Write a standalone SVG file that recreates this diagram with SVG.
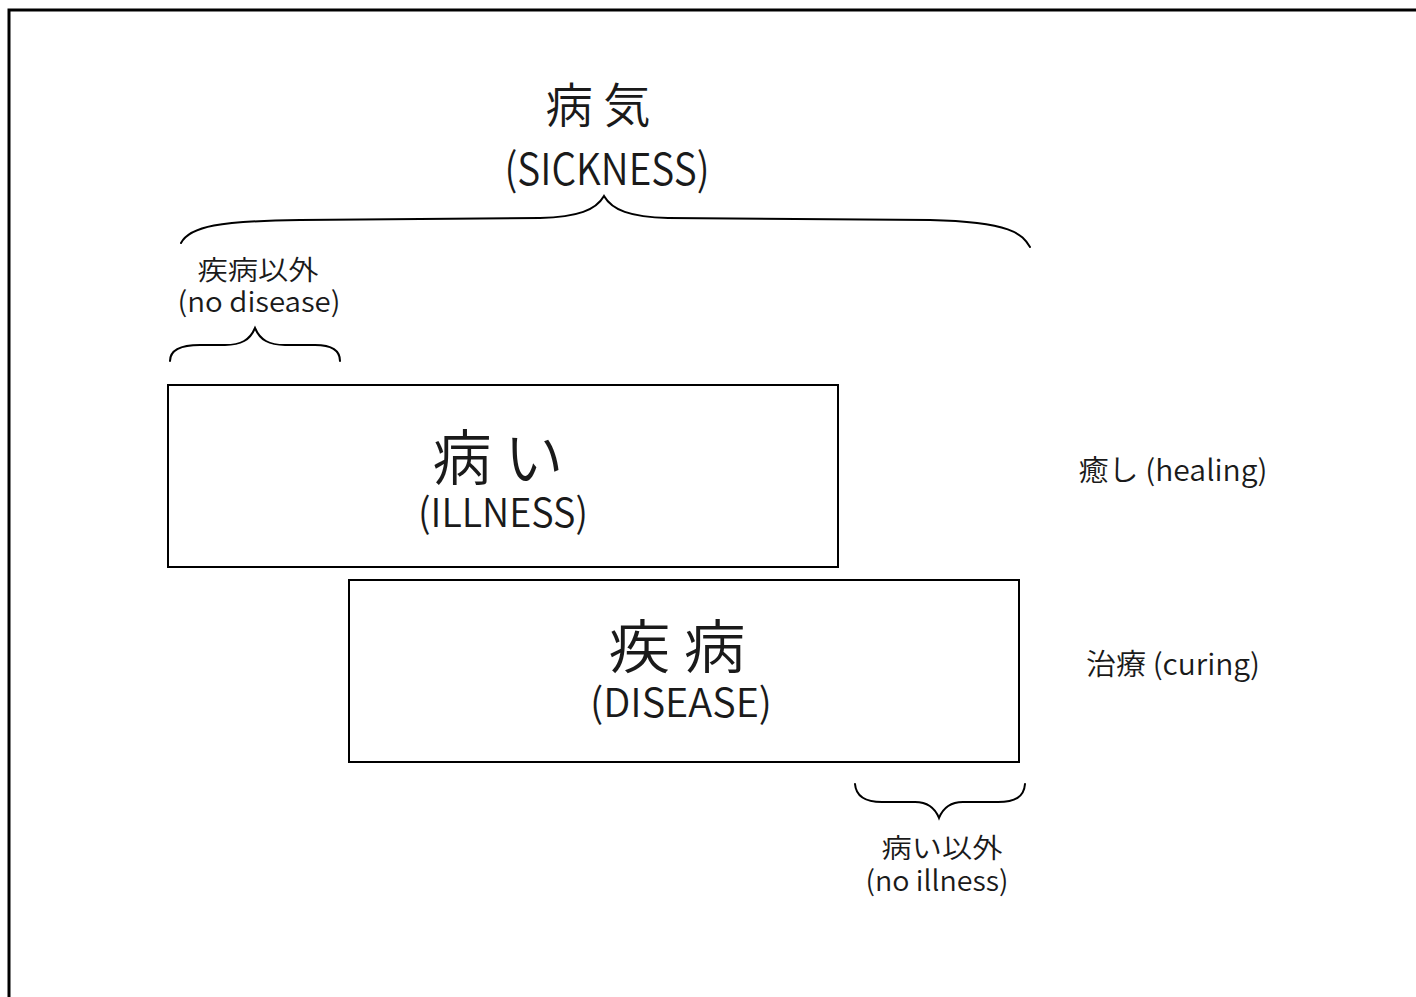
<svg xmlns="http://www.w3.org/2000/svg" width="1416" height="997" viewBox="0 0 1416 997">
<style>
text{font-family:"Noto Sans CJK JP","Noto Sans",sans-serif;fill:#1a1a1a;text-anchor:middle;font-weight:350}
.box{fill:#fff;stroke:#000;stroke-width:2}
.br{fill:none;stroke:#000;stroke-width:2;stroke-linecap:round}
</style>
<rect width="1416" height="997" fill="#fff"/>
<path d="M9,1000 L9,10 L1420,10" fill="none" stroke="#000" stroke-width="3"/>
<g id="connectors">
<path class="br" d="M181,243 C190,226 220,221 300,220 L540,218 C578,217 596,210 604,196 C612,210 630,217 668,218 L930,220 C1012,222 1022,234 1030,247"/>
<path class="br" d="M170,361 C170,350 180,345 200,345 L225,345 C241,345 250,340 255,328 C260,340 269,345 285,345 L315,345 C331,345 340,350 340,361"/>
<path class="br" d="M855,784 C856,797 866,802 882,802 L915,802 C927,802 935,808 939,818 C943,808 951,802 963,802 L998,802 C1015,802 1024,797 1025,784"/>
</g>
<g id="sickness">
<text x="598" y="123" font-size="48" textLength="105" lengthAdjust="spacingAndGlyphs">病 気</text>
<text x="607" y="185" font-size="44" textLength="205" lengthAdjust="spacingAndGlyphs">(SICKNESS)</text>
</g>
<g id="no-disease">
<text x="258" y="280" font-size="27" textLength="121" lengthAdjust="spacingAndGlyphs">疾病以外</text>
<text x="259" y="312" font-size="28" textLength="163" lengthAdjust="spacingAndGlyphs">(no disease)</text>
</g>
<g id="illness">
<rect class="box" x="168" y="385" width="670" height="182"/>
<text x="498" y="480" font-size="60" textLength="131" lengthAdjust="spacingAndGlyphs">病 い</text>
<text x="503" y="527" font-size="40" textLength="170" lengthAdjust="spacingAndGlyphs">(ILLNESS)</text>
</g>
<g id="disease">
<rect class="box" x="349" y="580" width="670" height="182"/>
<text x="677" y="668" font-size="58" textLength="137" lengthAdjust="spacingAndGlyphs">疾 病</text>
<text x="681" y="717" font-size="40" textLength="182" lengthAdjust="spacingAndGlyphs">(DISEASE)</text>
</g>
<g id="healing">
<text x="1173" y="481" font-size="29" textLength="189" lengthAdjust="spacingAndGlyphs">癒し (healing)</text>
</g>
<g id="curing">
<text x="1173" y="675" font-size="29" textLength="174" lengthAdjust="spacingAndGlyphs">治療 (curing)</text>
</g>
<g id="no-illness">
<text x="942" y="858" font-size="27" textLength="121" lengthAdjust="spacingAndGlyphs">病い以外</text>
<text x="937" y="891" font-size="28" textLength="143" lengthAdjust="spacingAndGlyphs">(no illness)</text>
</g>
</svg>
